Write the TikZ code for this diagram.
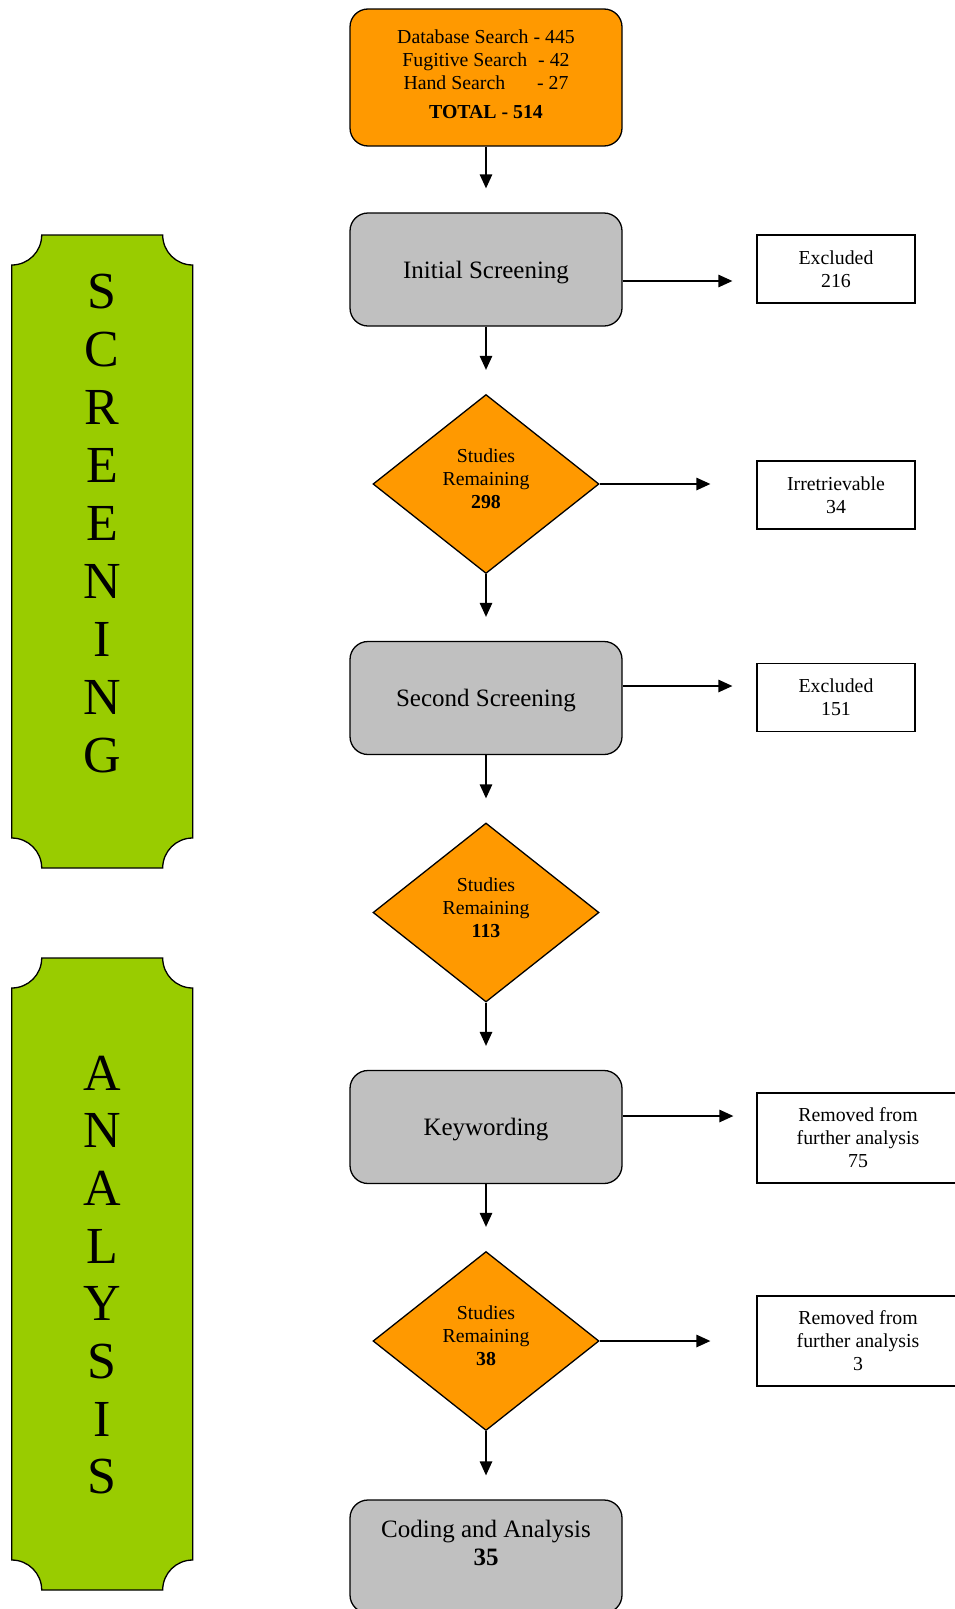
\documentclass[tikz,border=0pt]{standalone}
\usepackage{fontspec}
\setmainfont{Liberation Serif}
\definecolor{searchorange}{RGB}{255,153,0}
\definecolor{stagegray}{RGB}{192,192,192}
\definecolor{phasegreen}{RGB}{153,204,0}
\usetikzlibrary{positioning,shapes.geometric,arrows.meta}

% green phase banner with notched corners: x0, y0, x1, y1 (y grows downward)
\newcommand{\phasebanner}[4]{%
  \filldraw[banner] ({#1+30},#2) -- ({#3-30},#2)
    .. controls ({#3-30},{#2+16.6}) and ({#3-16.6},{#2+30}) .. (#3,{#2+30})
    -- (#3,{#4-30})
    .. controls ({#3-16.6},{#4-30}) and ({#3-30},{#4-16.6}) .. ({#3-30},#4)
    -- ({#1+30},#4)
    .. controls ({#1+30},{#4-16.6}) and ({#1+16.6},{#4-30}) .. (#1,{#4-30})
    -- (#1,{#2+30})
    .. controls ({#1+16.6},{#2+30}) and ({#1+30},{#2+16.6}) .. cycle;}

\begin{document}
\begin{tikzpicture}[
    x=1pt, y=-1pt,
    stage/.style={rectangle, rounded corners=18pt, draw=black, line width=1.3pt, fill=stagegray, minimum width=272pt, minimum height=113pt, align=center, text depth=0pt, font=\fontsize{25}{28}\selectfont},
    source/.style={stage, fill=searchorange, minimum height=137pt, text depth=6pt, font=\fontsize{19.8}{23}\selectfont},
    remain/.style={diamond, draw=black, line width=1.3pt, fill=searchorange, inner sep=0pt, minimum width=226pt, minimum height=179pt, align=center, text depth=10pt, font=\fontsize{19.8}{23}\selectfont},
    dropped/.style={rectangle, draw=black, line width=1.3pt, fill=white, minimum width=158pt, minimum height=68pt, align=center, font=\fontsize{19.8}{23}\selectfont},
    banner/.style={draw=black, line width=1.3pt, fill=phasegreen},
    phaseletter/.style={font=\fontsize{52}{52}\selectfont, inner sep=0pt},
    flow/.style={-{Triangle[length=14pt,width=12.5pt]}, line width=1.3pt, shorten >=24pt}
]
    \useasboundingbox (0,0) rectangle (955,1609);
    \clip (0,0) rectangle (955,1609);

    % phase banners
    \phasebanner{11.7}{235}{192.7}{868}
    \phasebanner{11.7}{958}{192.7}{1590}
    \foreach \ch [count=\i from 0] in {S,C,R,E,E,N,I,N,G}
        \node[phaseletter] (scr\i) at (102,{292+57.9*\i}) {\ch};
    \foreach \ch [count=\i from 0] in {A,N,A,L,Y,S,I,S}
        \node[phaseletter] (ana\i) at (102,{1073+57.7*\i}) {\ch};

    % main flow
    \node[source] (search) at (486,77.5) {Database Search - 445\\Fugitive Search\hspace{6pt} - 42\\Hand Search\hspace{27pt} - 27\\[6pt]\textbf{TOTAL - 514}};
    \node[stage] (screen1) at (486,269.5) {Initial Screening};
    \node[remain] (left1) at (486,484) {Studies\\Remaining\\\textbf{298}};
    \node[stage] (screen2) at (486,698) {Second Screening};
    \node[remain] (left2) at (486,912.5) {Studies\\Remaining\\\textbf{113}};
    \node[stage] (keyword) at (486,1127) {Keywording};
    \node[remain] (left3) at (486,1341) {Studies\\Remaining\\\textbf{38}};
    \node[stage, text depth=28pt] (coding) at (486,1556.5) {Coding and Analysis\\\textbf{35}};

    % removed studies
    \node[dropped] (excl1) at (836,269) {Excluded\\216};
    \node[dropped] (irretr) at (836,495) {Irretrievable\\34};
    \node[dropped] (excl2) at (836,697.5) {Excluded\\151};
    \node[dropped, minimum width=202pt, minimum height=90pt] (removed1) at (858,1138) {Removed from\\further analysis\\75};
    \node[dropped, minimum width=202pt, minimum height=90pt] (removed2) at (858,1341) {Removed from\\further analysis\\3};

    \draw[flow] (search) -- (screen1);
    \draw[flow] (screen1) -- (left1);
    \draw[flow] (left1) -- (screen2);
    \draw[flow] (screen2) -- (left2);
    \draw[flow] (left2) -- (keyword);
    \draw[flow] (keyword) -- (left3);
    \draw[flow] (left3) -- (coding);

    \draw[flow] ([yshift=-11.5pt]screen1.east) -- ([yshift=-11.5pt]screen1.east -| excl1.west);
    \draw[flow, shorten >=46pt] (left1.east) -- (left1.east -| irretr.west);
    \draw[flow] ([yshift=12pt]screen2.east) -- ([yshift=12pt]screen2.east -| excl2.west);
    \draw[flow, shorten >=23pt] ([yshift=11pt]keyword.east) -- ([yshift=11pt]keyword.east -| removed1.west);
    \draw[flow, shorten >=46pt] (left3.east) -- (left3.east -| removed2.west);
\end{tikzpicture}
\end{document}
